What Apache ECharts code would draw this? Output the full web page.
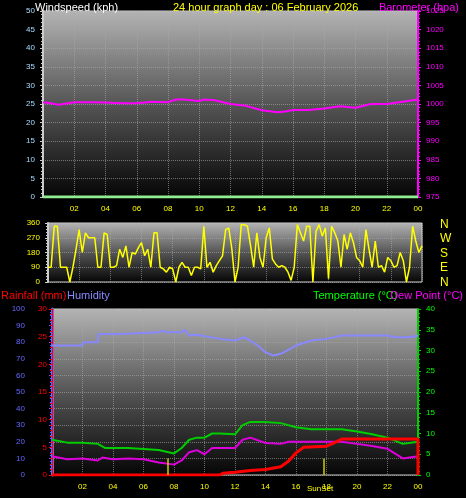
<!DOCTYPE html>
<html>
<head>
<meta charset="utf-8">
<script src="https://cdn.jsdelivr.net/npm/echarts@6/dist/echarts.min.js"></script>
<style>html,body{margin:0;background:#000;}#main{width:466px;height:498px;}</style>
</head>
<body>
<div id="main"></div>
<script>
var baroHours = [0, 0.5, 1, 2, 3, 4, 5, 6, 7, 8, 8.5, 9, 10, 10.3, 11, 12, 13, 14, 15, 15.5, 16, 17, 18, 19, 20, 21, 22, 23, 24];
var baroValues = [1000.5, 1000.2, 999.8, 1000.5, 1000.5, 1000.4, 1000.2, 1000.2, 1000.6, 1000.5, 1001.2, 1001.2, 1000.8, 1001.2, 1001, 1000, 999.5, 998.3, 997.8, 998, 998.4, 998.4, 998.8, 999.4, 999, 1000, 1000, 1000.6, 1001.2];
var windHours = [0, 24];
var windValues = [0, 0];

var dirStep = 0.2;
var dirValues = [90, 90, 340, 340, 90, 90, 90, 0, 90, 200,
  320, 180, 300, 270, 270, 270, 90, 90, 300, 290,
  90, 90, 100, 200, 150, 220, 90, 180, 170, 210,
  240, 160, 200, 90, 300, 300, 90, 80, 60, 90,
  80, 0, 90, 120, 90, 90, 40, 90, 90, 80,
  340, 90, 120, 60, 100, 130, 160, 320, 330, 200,
  0, 90, 350, 350, 340, 220, 90, 300, 150, 90,
  270, 330, 140, 110, 90, 100, 90, 60, 10, 90,
  350, 300, 250, 340, 340, 0, 310, 350, 280, 330,
  20, 340, 300, 250, 90, 290, 200, 300, 240, 150,
  130, 90, 320, 200, 90, 250, 90, 100, 60, 150,
  130, 90, 100, 180, 130, 0, 90, 340, 250, 180,
  220];

var humHours = [0, 1, 2, 2.05, 3, 3.05, 4.5, 4.55, 7, 7.3, 7.5, 8.5, 8.7, 9, 9.5, 11, 12, 12.6, 13, 13.5, 14, 14.5, 15, 16, 17, 18, 19, 22, 22.5, 23.5, 24];
var humValues = [78, 78, 78, 80, 80, 85, 85, 86, 86, 87, 86, 86, 87.5, 84, 84.5, 82, 81, 83, 81, 78, 74, 72, 73, 78, 81, 82, 84, 84, 83, 83, 84];
var tempHours = [0, 1, 2, 3, 3.5, 5, 7, 8, 8.5, 9, 9.5, 10, 10.5, 11, 12, 12.5, 13, 14, 15, 16, 17, 18, 19, 20, 21, 22, 23, 24];
var tempValues = [8.5, 7.8, 7.8, 7.5, 6.5, 6.5, 6, 5.2, 6.5, 8.5, 9, 9, 10, 10, 9.8, 12, 12.8, 12.8, 12.5, 11.5, 11, 11, 11, 10.5, 9.8, 9, 7.5, 8];
var dewHours = [0, 1, 2, 3, 3.3, 4, 5, 6, 7, 8, 8.5, 9, 9.5, 10, 10.5, 11, 12, 12.5, 13, 14, 15, 15.5, 16, 17, 18, 19, 20, 21, 22, 23, 24];
var dewValues = [4.5, 3.8, 4, 3.5, 4.2, 3.8, 4, 3.8, 3, 2.5, 3.5, 5.5, 6, 5, 6.5, 6.5, 6.5, 8.5, 9, 7.7, 7.5, 8, 8, 8, 8, 8, 7.5, 7, 6.3, 4, 4.5];
var rainHours = [0, 11, 11.2, 12, 13, 14, 15, 15.5, 16, 16.5, 18, 18.5, 19, 24, 24];
var rainValues = [0, 0, 0.3, 0.5, 0.8, 1, 1.5, 2.5, 4, 5, 5.2, 5.8, 6.5, 6.5, 0];
var sunHours = [7.6, 17.8];
var hourTicks = ['02', '04', '06', '08', '10', '12', '14', '16', '18', '20', '22', '00'];
var compass = ['N', 'W', 'S', 'E', 'N'];

function zip(xs, ys) { return xs.map(function (x, i) { return [x, ys[i]]; }); }
var dirData = dirValues.map(function (v, i) { return [i * dirStep, v]; });

var chart = echarts.init(document.getElementById('main'));
var bg = new echarts.graphic.LinearGradient(0, 0, 0, 1, [
  { offset: 0, color: '#b4b4b4' }, { offset: 0.5, color: '#555' }, { offset: 1, color: '#050505' }]);
var font = 'Liberation Sans';
var lbl = { fontSize: 8, fontFamily: font };
var grids = [
  { left: 43, right: 48, top: 11, height: 186 },
  { left: 48, right: 44, top: 223, height: 59 },
  { left: 52, right: 48, top: 309, height: 166 }
];
grids.forEach(function (g) { g.backgroundColor = bg; g.show = true; g.borderColor = '#ccc'; g.borderWidth = 1; });

function xAxis(i, showTicks) {
  return {
    type: 'value', gridIndex: i, min: 0, max: 24, interval: 2,
    axisLine: { show: false }, axisTick: { show: false },
    splitLine: { lineStyle: { color: '#aaa', type: 'dotted', opacity: 0.6 } },
    axisLabel: { show: showTicks, color: '#ffff00', fontSize: 8, fontFamily: font,
      formatter: function (v) { return v === 0 ? '' : hourTicks[v / 2 - 1]; } }
  };
}
function yAxis(o) {
  return Object.assign({
    type: 'value', axisLine: { show: true, lineStyle: { width: 2 } }, axisTick: { show: true, length: 3 },
    minorTick: { show: true, splitNumber: 5, length: 2 }, splitLine: { show: false }
  }, o);
}
function title(text, pos, color) {
  return Object.assign({ text: text, top: -3, textStyle: { color: color, fontSize: 11, fontWeight: 'normal', fontFamily: font } }, pos);
}

var option = {
  backgroundColor: '#000',
  animation: false,
  title: [
    title('Windspeed (kph)', { left: 30 }, '#fff'),
    title('24 hour graph day : 06 February 2026', { left: 168 }, '#ffff00'),
    title('Barometer (hpa)', { right: 2 }, '#ff00ff'),
    title('Rainfall (mm)', { left: -4, top: 285 }, '#ff0000'),
    title('Humidity', { left: 62, top: 285 }, '#8888ff'),
    title('Temperature (°C)', { left: 308, top: 285 }, '#00ff00'),
    title('Dew Point (°C)', { right: -2, top: 285 }, '#ff00ff'),
    { text: compass.join('\n'), left: 435, top: 212, textStyle: { color: '#ffff00', fontSize: 12, fontWeight: 'normal', lineHeight: 14.5, fontFamily: font } }
  ],
  grid: grids,
  xAxis: [xAxis(0, true), xAxis(1, false), xAxis(2, true)],
  yAxis: [
    yAxis({ gridIndex: 0, min: 0, max: 50, interval: 5, axisLine: { show: true, lineStyle: { color: '#ccc', width: 2 } },
      axisLabel: Object.assign({ color: '#aaddff' }, lbl), splitLine: { show: true, lineStyle: { color: '#aaa', type: 'dotted', opacity: 0.6 } } }),
    yAxis({ gridIndex: 0, position: 'right', min: 975, max: 1025, interval: 5, axisLine: { show: true, lineStyle: { color: '#ff00ff', width: 2 } },
      axisLabel: Object.assign({ color: '#ff00ff', formatter: function (v) { return String(v); } }, lbl) }),
    yAxis({ gridIndex: 1, min: 0, max: 360, interval: 90, axisLine: { show: true, lineStyle: { color: '#ccc', width: 2 } },
      axisLabel: Object.assign({ color: '#ffff00' }, lbl), splitLine: { show: true, lineStyle: { color: '#aaa', type: 'dotted', opacity: 0.6 } } }),
    yAxis({ gridIndex: 2, position: 'left', min: 0, max: 100, interval: 10, offset: 23, axisLine: { show: true, lineStyle: { color: '#6666ff', width: 3 } },
      axisLabel: Object.assign({ color: '#6666ff', margin: 4 }, lbl), splitLine: { show: true, lineStyle: { color: '#aaa', type: 'dotted', opacity: 0.6 } } }),
    yAxis({ gridIndex: 2, position: 'left', min: 0, max: 30, interval: 5, offset: 0, axisLine: { show: true, lineStyle: { color: '#ff0000', width: 1 } },
      axisLabel: Object.assign({ color: '#ff0000', margin: 5 }, lbl) }),
    yAxis({ gridIndex: 2, position: 'right', min: 0, max: 40, interval: 5, axisLine: { show: true, lineStyle: { color: '#00cc00', width: 2 } },
      axisLabel: Object.assign({ color: '#00ff00' }, lbl) })
  ],
  series: [
    { type: 'line', xAxisIndex: 0, yAxisIndex: 0, data: zip(windHours, windValues), showSymbol: false, lineStyle: { color: '#90ee90', width: 3 } },
    { type: 'line', xAxisIndex: 0, yAxisIndex: 1, data: zip(baroHours, baroValues), showSymbol: false, lineStyle: { color: '#ff00ff', width: 2 } },
    { type: 'line', xAxisIndex: 1, yAxisIndex: 2, data: dirData, showSymbol: false, lineStyle: { color: '#ffff00', width: 1.5 } },
    { type: 'line', xAxisIndex: 2, yAxisIndex: 3, data: zip(humHours, humValues), showSymbol: false, lineStyle: { color: '#8888ff', width: 2 } },
    { type: 'line', xAxisIndex: 2, yAxisIndex: 5, data: zip(tempHours, tempValues), showSymbol: false, lineStyle: { color: '#00cc00', width: 2 } },
    { type: 'line', xAxisIndex: 2, yAxisIndex: 5, data: zip(dewHours, dewValues), showSymbol: false, lineStyle: { color: '#dd00dd', width: 2 } },
    { type: 'line', xAxisIndex: 2, yAxisIndex: 4, data: zip(rainHours, rainValues), showSymbol: false, lineStyle: { color: '#ff0000', width: 3 },
      markLine: { silent: true, symbol: 'none', label: { show: false },
        lineStyle: { color: '#cccc00', type: 'solid', width: 1.5 },
        data: sunHours.map(function (h) { return [{ coord: [h, 0] }, { coord: [h, 3] }]; }) } }
  ],
  graphic: [{ type: 'text', left: 307, top: 485, style: { text: 'SunSet', fill: '#ffff00', fontSize: 8, fontFamily: font } }]
};
chart.setOption(option);
window.addEventListener('resize', function () { chart.resize(); });
</script>
</body>
</html>
